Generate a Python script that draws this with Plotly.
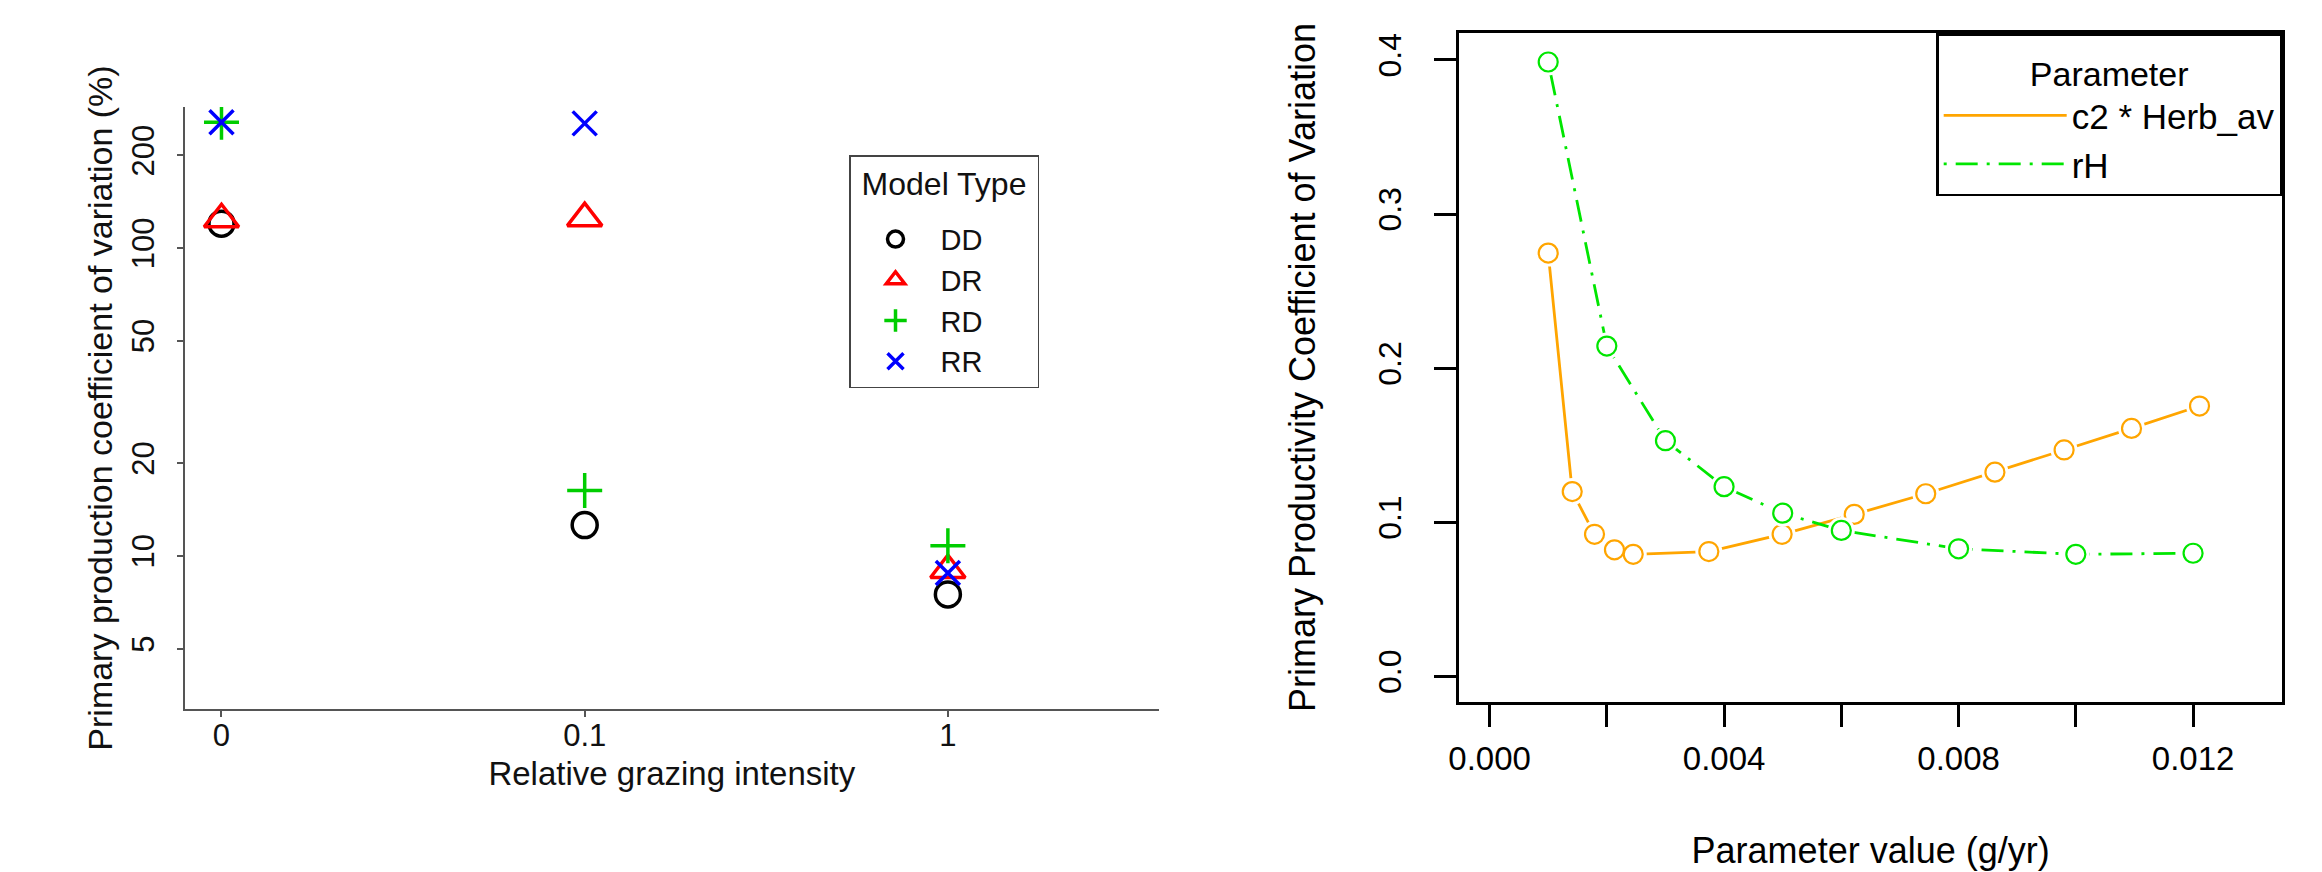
import plotly.graph_objects as go

W, H = 2322, 872
FONT = "Liberation Sans, Arial, Helvetica, sans-serif"

# ---------------- left panel data ----------------
grazing = ["0", "0.1", "1"]
dd = [120, 12.6, 7.5]
dr = [124, 125, 9.0]
rd = [256, 16.3, 10.8]
rr = [256, 254, 8.8]
y_ticks_left = [5, 10, 20, 50, 100, 200]

# ---------------- right panel data ----------------
c2_x = [0.001, 0.00141, 0.00179, 0.00213, 0.00245, 0.00374, 0.00499,
        0.00622, 0.00744, 0.00862, 0.0098, 0.01095, 0.01211]
c2_y = [0.2747, 0.120, 0.0923, 0.0822, 0.0793, 0.0811, 0.0923,
        0.1052, 0.1186, 0.1326, 0.147, 0.161, 0.1755]
rh_x = [0.001, 0.002, 0.003, 0.004, 0.005, 0.006, 0.008, 0.010, 0.012]
rh_y = [0.3987, 0.2144, 0.153, 0.1232, 0.106, 0.0948, 0.0829, 0.0793, 0.0800]
x_ticks_right = [0.000, 0.004, 0.008, 0.012]
x_ticktext_right = ["0.000", "0.004", "0.008", "0.012"]
y_ticks_right = [0.0, 0.1, 0.2, 0.3, 0.4]
y_ticktext_right = ["0.0", "0.1", "0.2", "0.3", "0.4"]

fig = go.Figure()

left_series = [
    ("DD", dd, "circle-open", "#000000", 25),
    ("DR", dr, "triangle-up-open", "#FF0000", 30),
    ("RD", rd, "cross-thin-open", "#00CD00", 25),
    ("RR", rr, "x-thin-open", "#0000FF", 24),
]
for name, vals, sym, col, sz in left_series:
    fig.add_trace(go.Scatter(
        x=grazing, y=vals, mode="markers", name=name,
        marker=dict(symbol=sym, size=sz, color=col, line=dict(color=col, width=3.5)),
        xaxis="x", yaxis="y", legend="legend",
    ))

ORANGE = "#FFA500"
GREEN = "#00E600"
right_series = [
    ("c2 * Herb_av", c2_x, c2_y, ORANGE, "solid"),
    ("rH", rh_x, rh_y, GREEN, "3px,9px,22px,9px"),
]
for name, xs, ys, col, dash in right_series:
    fig.add_trace(go.Scatter(
        x=xs, y=ys, mode="lines", name=name,
        line=dict(color=col, width=2.8, dash=dash),
        xaxis="x2", yaxis="y2", legend="legend2",
    ))
    fig.add_trace(go.Scatter(
        x=xs, y=ys, mode="markers", showlegend=False, hoverinfo="skip",
        marker=dict(symbol="circle", size=27, color="white", line=dict(width=0)),
        xaxis="x2", yaxis="y2",
    ))
    fig.add_trace(go.Scatter(
        x=xs, y=ys, mode="markers", showlegend=False,
        marker=dict(symbol="circle-open", size=19, color=col, line=dict(color=col, width=2.2)),
        xaxis="x2", yaxis="y2",
    ))

GRAY = "#555555"
fig.update_layout(
    width=W, height=H, autosize=False,
    margin=dict(l=0, r=0, t=0, b=0),
    paper_bgcolor="white", plot_bgcolor="white",
    font=dict(family=FONT, color="#111111", size=30),
    xaxis=dict(
        domain=[175 / W, 1153 / W], anchor="y", type="category",
        range=[-0.1, 2.58], showgrid=False, zeroline=False,
        showline=True, linecolor=GRAY, linewidth=2,
        ticks="outside", ticklen=6, tickwidth=1.5, tickcolor=GRAY,
        tickfont=dict(size=31), ticklabelstandoff=-8,
        title=dict(text="Relative grazing intensity", font=dict(size=33), standoff=10),
    ),
    yaxis=dict(
        domain=[1 - 709 / H, 1 - 107 / H], anchor="x", type="log",
        range=[0.503, 2.458], showgrid=False, zeroline=False,
        showline=True, linecolor=GRAY, linewidth=2,
        ticks="outside", ticklen=6, tickwidth=1.5, tickcolor=GRAY,
        tickvals=y_ticks_left, ticktext=[str(v) for v in y_ticks_left],
        tickangle=-90, tickfont=dict(size=31), ticklabelstandoff=11,
        title=dict(text="Primary production coefficient of variation (%)",
                   font=dict(size=34), standoff=3),
    ),
    xaxis2=dict(
        domain=[1455 / W, 2282 / W], anchor="y2",
        range=[-0.00052, 0.01352], showgrid=False, zeroline=False,
        showline=True, mirror=True, linecolor="black", linewidth=2.5,
        ticks="outside", ticklen=22, tickwidth=2.5, tickcolor="black",
        tickvals=x_ticks_right, ticktext=x_ticktext_right,
        minor=dict(tick0=0, dtick=0.002, ticks="outside", ticklen=22,
                   tickwidth=2.5, tickcolor="black", showgrid=False),
        tickfont=dict(size=33, color="black"), ticklabelstandoff=4,
        title=dict(text="Parameter value (g/yr)", font=dict(size=36, color="black"), standoff=62),
    ),
    yaxis2=dict(
        domain=[1 - 702 / H, 1 - 33 / H], anchor="x2",
        range=[-0.0165, 0.4175], showgrid=False, zeroline=False,
        showline=True, mirror=True, linecolor="black", linewidth=2.5,
        ticks="outside", ticklen=22, tickwidth=2.5, tickcolor="black",
        tickvals=y_ticks_right, ticktext=y_ticktext_right,
        tickangle=-90, tickfont=dict(size=32, color="black"), ticklabelstandoff=21,
        title=dict(text="Primary Productivity Coefficient of Variation",
                   font=dict(size=36, color="black"), standoff=45),
    ),
    legend=dict(
        x=842 / W, y=1 - 155 / H, xanchor="left", yanchor="top",
        bgcolor="white", bordercolor="#444444", borderwidth=1.5,
        font=dict(size=29, color="#111111"),
        title=dict(text="<sup><span style='font-size:32px'>&nbsp;Model Type&nbsp;</span></sup>",
                   side="top center", font=dict(size=44)),
        itemsizing="trace", itemwidth=80, tracegroupgap=0,
    ),
    legend2=dict(
        x=2282 / W, y=1 - 33 / H, xanchor="right", yanchor="top",
        bgcolor="white", bordercolor="black", borderwidth=2.5,
        font=dict(size=35, color="black"),
        title=dict(text="<span style='font-size:34px'>Parameter</span>",
                   side="top center", font=dict(size=39)),
        itemwidth=123, tracegroupgap=0,
    ),
)

fig.write_html("out.html")
